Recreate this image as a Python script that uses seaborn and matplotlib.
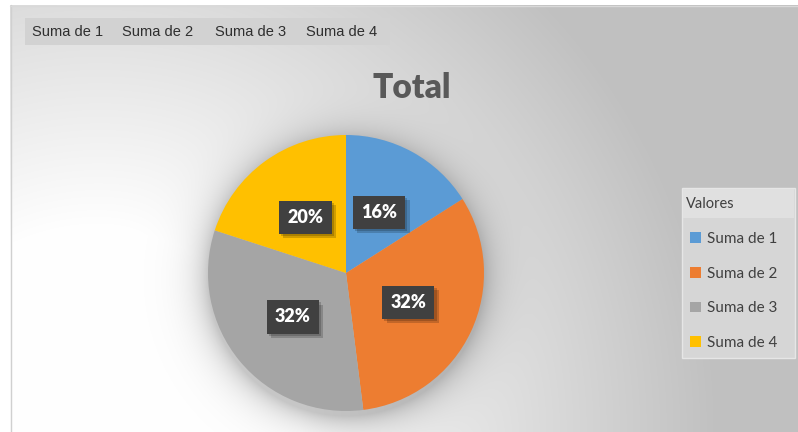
import numpy as np
import matplotlib
matplotlib.use("Agg")
import matplotlib.pyplot as plt
import matplotlib.patheffects as pe
from matplotlib.patches import Rectangle
import seaborn as sns

# Data
series = ["Suma de 1", "Suma de 2", "Suma de 3", "Suma de 4"]
values = [16, 32, 32, 20]
colors = ["#5B9BD5", "#ED7D31", "#A5A5A5", "#FFC000"]
chart_title = "Total"
legend_title = "Valores"

W, H = 798, 432
sns.set_theme(style="white")
plt.rcParams["font.family"] = ["Lato", "DejaVu Sans"]

fig = plt.figure(figsize=(W / 100, H / 100), dpi=100)


def fx(px):
    return px / W


def fy(py):
    return 1 - py / H


# Background layer in pixel coordinates (origin top-left)
bg = fig.add_axes([0, 0, 1, 1])
bg.set_axis_off()
yy, xx = np.mgrid[0:H, 0:W] + 0.5
d = np.hypot(xx - 100, yy - 430)
g = 1 - np.clip((d - 200) / 420, 0, 1) * 0.247
# soft glow around the pie
dp = np.hypot(xx - 346, yy - 278)
halo = np.where(dp > 138, np.exp(-(dp - 138) / 16), 1.0)
g = g * (1 - 0.22 * halo)
g[(xx < 10) | (yy < 5)] = 1.0
bg.imshow(np.dstack([g, g, g]), extent=(0, W, H, 0), aspect="auto",
          interpolation="bilinear", zorder=0)
bg.set_xlim(0, W)
bg.set_ylim(H, 0)

# Chart area border
bg.plot([10.5, 10.5], [5, H], color="#d0d0d0", lw=1, zorder=1)
bg.plot([10, W], [5.5, 5.5], color="#d9d9d9", lw=1, zorder=1)

# Field buttons bar
bg.add_patch(Rectangle((25, 18), 365, 27, facecolor="#d2d2d2", edgecolor="none", zorder=1))
for x0, name in zip([32, 122, 215, 306], series):
    bg.text(x0, 32, name, ha="left", va="center", fontsize=10.5, color="#2e2e2e",
            family=["Liberation Sans", "DejaVu Sans"], zorder=2)

# Title
bg.text(412, 88, chart_title, ha="center", va="center", fontsize=24,
        fontweight="heavy", color="#595959", zorder=2)

# Legend panel
bg.add_patch(Rectangle((682, 188), 113, 170, facecolor="#d6d6d6",
                       edgecolor="#e6e6e6", lw=1, zorder=1))
bg.add_patch(Rectangle((683, 189), 111, 29, facecolor="#e0e0e0",
                       edgecolor="none", zorder=1))
bg.text(686, 204, legend_title, ha="left", va="center", fontsize=10.5,
        color="#404040", zorder=2)

# Pie
R = 138
ax = fig.add_axes([fx(346 - R), fy(273 + R), 2 * R / W, 2 * R / H])
wedges, texts, autotexts = ax.pie(
    values, colors=colors, startangle=90, counterclock=False,
    autopct="%.0f%%", pctdistance=0.5, radius=1,
    wedgeprops=dict(linewidth=0),
    textprops=dict(color="white", fontsize=13, fontweight="heavy"))
ax.set_xlim(-1, 1)
ax.set_ylim(-1, 1)
ax.set_aspect("equal")
ax.set_axis_off()

for t in autotexts:
    t.set_bbox(dict(boxstyle="square,pad=0.45", facecolor="#404040", edgecolor="none"))
    t.get_bbox_patch().set_path_effects(
        [pe.SimplePatchShadow(offset=(3, -3), shadow_rgbFace="#000000", alpha=0.18),
         pe.SimplePatchShadow(offset=(1.5, -1.5), shadow_rgbFace="#000000", alpha=0.18),
         pe.Normal()])

leg = fig.legend(wedges, series, loc="upper left",
                 bbox_to_anchor=(fx(690), fy(232)), frameon=False,
                 fontsize=11, handlelength=0.7, handleheight=0.7,
                 handletextpad=0.4, labelspacing=1.35, borderpad=0,
                 borderaxespad=0)
for txt in leg.get_texts():
    txt.set_color("#404040")

fig.savefig("out.png", dpi=100)
